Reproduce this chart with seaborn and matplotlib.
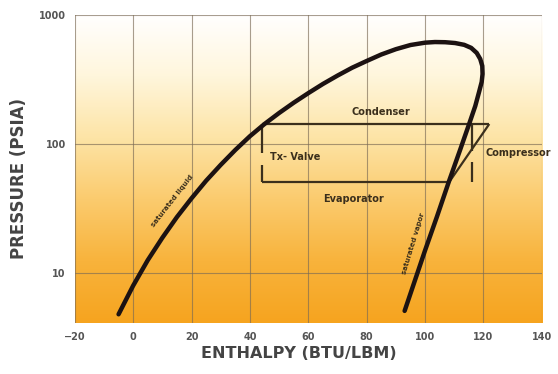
import numpy as np
import pandas as pd
import matplotlib
matplotlib.use("Agg")
import matplotlib.pyplot as plt
from matplotlib.colors import LinearSegmentedColormap
from matplotlib.ticker import FixedLocator, FixedFormatter
import seaborn as sns

# saturation dome (liquid side -> peak -> vapor side)
dome_h = [-5, 0, 5, 10, 15, 20, 25, 30, 35, 40, 45, 50, 55, 60, 65, 70, 75, 80,
          85, 90, 95, 100, 103.4, 106.9, 110.3, 113.4, 115.8, 117.7, 118.9,
          119.6, 119.7, 119.4, 118.5, 117.2, 115.1, 112, 108.2, 104.1, 100, 93]
dome_p = [4.8, 8.0, 12.6, 18.8, 27.2, 38, 52, 69, 90, 115, 143, 174, 209, 248,
          292, 339, 390, 440, 494, 543, 585, 610, 617, 615, 606, 587, 556, 508,
          456, 403, 349, 303, 253, 197, 143, 90, 51.5, 27.5, 15, 5.1]

# refrigeration cycle
p_cond = 143
p_evap = 50.5
h_valve = 44
h_evap_end = 108.2
h_comp_top = 122
h_comp_bracket = 116.2

x_ticks = [-20, 0, 20, 40, 60, 80, 100, 120, 140]
y_ticks = [10, 100, 1000]
y_tick_labels = ["10", "100", "1000"]

line_col = "#3b2f1c"
text_col = "#3b2f1c"

sns.set_style("white")
plt.rcParams["font.family"] = ["DejaVu Sans"]

fig = plt.figure(figsize=(5.58, 3.74), dpi=100)
ax = fig.add_axes([0.134, 0.136, 0.837, 0.824])

# background gradient white -> orange
grad_cmap = LinearSegmentedColormap.from_list(
    "bg", ["#f6a41f", "#f8b33c", "#fbcb6e", "#fde4a6", "#fff6dc", "#ffffff"])
grad = np.linspace(0, 1, 256).reshape(-1, 1)
ax.imshow(grad, aspect="auto", cmap=grad_cmap, origin="lower",
          extent=[0, 1, 0, 1], transform=ax.transAxes, zorder=0)

ax.set_yscale("log")
ax.set_xlim(-20, 140)
ax.set_ylim(4.1, 1000)

# grid
for xv in x_ticks:
    ax.axvline(xv, color="#7a6a55", lw=0.8, alpha=0.65, zorder=1)
for yv in y_ticks:
    ax.axhline(yv, color="#7a6a55", lw=0.8, alpha=0.65, zorder=1)

# dome
dome = pd.DataFrame({"h": dome_h, "p": dome_p})
sns.lineplot(data=dome, x="h", y="p", sort=False, estimator=None,
             color="#1c1212", lw=3.2, ax=ax, zorder=4)
ax.lines[-1].set_solid_joinstyle("round")
ax.lines[-1].set_solid_capstyle("round")

# cycle lines
cyc = dict(color=line_col, lw=1.6, zorder=3, solid_capstyle="butt")
ax.plot([h_valve, h_comp_top], [p_cond, p_cond], **cyc)
ax.plot([h_valve, h_evap_end], [p_evap, p_evap], **cyc)
ax.plot([h_evap_end, h_comp_top], [p_evap, p_cond], **cyc)
ax.plot([h_valve, h_valve], [p_cond, 84.5], **cyc)
ax.plot([h_valve, h_valve], [68.5, p_evap], **cyc)
ax.plot([h_comp_bracket, h_comp_bracket], [p_cond, 89], **cyc)
ax.plot([h_comp_bracket, h_comp_bracket], [72, p_evap], **cyc)

tk = dict(color=text_col, fontsize=7, fontweight="bold", zorder=5)
ax.text(85, 178, "Condenser", ha="center", va="center", **tk)
ax.text(75.6, 37.8, "Evaporator", ha="center", va="center", **tk)
ax.text(47, 80, "Tx- Valve", ha="left", va="center", **tk)
ax.text(120.8, 86, "Compressor", ha="left", va="center", clip_on=False, **tk)
ax.text(13.3, 36, "saturated liquid", ha="center", va="center", rotation=52,
        color=text_col, fontsize=5, fontweight="bold", zorder=5)
ax.text(96, 16.9, "saturated vapor", ha="center", va="center", rotation=73,
        color=text_col, fontsize=5, fontweight="bold", zorder=5)

# ticks
ax.xaxis.set_major_locator(FixedLocator(x_ticks))
ax.yaxis.set_major_locator(FixedLocator(y_ticks))
ax.yaxis.set_major_formatter(FixedFormatter(y_tick_labels))
ax.yaxis.set_minor_locator(FixedLocator([]))
ax.tick_params(axis="both", labelsize=7, labelcolor="#555555", length=3,
               color="#999999", width=0.8)
for lab in ax.get_xticklabels() + ax.get_yticklabels():
    lab.set_fontweight("bold")
for s in ax.spines.values():
    s.set_visible(False)

ax.set_xlabel("ENTHALPY (BTU/LBM)", fontsize=11.5, fontweight="bold",
              color="#444444")
ax.set_ylabel("PRESSURE (PSIA)", fontsize=12, fontweight="bold",
              color="#444444")
ax.xaxis.set_label_coords(0.48, -0.075)
ax.yaxis.set_label_coords(-0.1, 0.47)

fig.savefig("out.png", dpi=100)
